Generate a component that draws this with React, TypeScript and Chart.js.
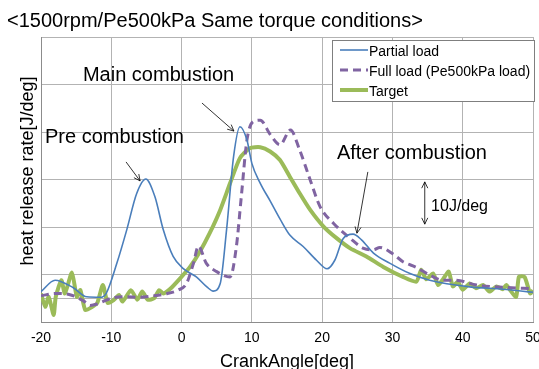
import React, { useEffect, useRef } from "react";
import { Chart, registerables } from "chart.js";

Chart.register(...registerables);

const TITLE = "<1500rpm/Pe500kPa Same torque conditions>";
const X_TITLE = "CrankAngle[deg]";
const Y_TITLE = "heat release rate[J/deg]";
const X_TICKS = [-20, -10, 0, 10, 20, 30, 40, 50];
const Y_GRID = [-5, 0, 5, 15, 25, 35, 45, 55];

const partialX = [-20, -18, -15.4, -13.5, -11.6, -10.7, -9.2, -7.8, -6.4, -5.1, -3.8, -2.6, -1.2, 0.2, 2.1, 3.6, 4.5, 5.5, 6.4, 7.4, 8.3, 9.3, 10, 11.2, 12.6, 14, 15.4, 17.3, 19.2, 20.7, 21.8, 23, 24.4, 25.6, 27.3, 29.6, 32.5, 35.3, 41, 45.7, 50];
const partialY = [1.4, 3.8, 2.2, 0.3, 0.2, 1.1, 7.4, 14.4, 22, 25.1, 21.4, 14.4, 8.8, 6.3, 4.5, 2.4, 1.5, 3.1, 14.4, 29.8, 36.1, 33.3, 28.4, 24.2, 20.5, 16.7, 13.3, 10.9, 8, 6.2, 8, 12.6, 13.5, 12.3, 9.5, 7.4, 5.2, 3.8, 2.4, 1.9, 1.25];

const fullX = [-20, -18, -16, -14, -13, -12, -10, -8, -6, -4, -2, -0.5, 0.7, 1.7, 2.4, 3.5, 5, 6.9, 7.8, 8.5, 9.3, 10.2, 11.2, 12.6, 14, 15.5, 16.8, 18.3, 19.7, 21.6, 24, 25.9, 27.3, 28.2, 30.1, 31.5, 33.4, 35.3, 37.2, 39, 42, 46, 50];
const fullY = [0.5, 1, 0.8, -0.5, -1.5, -1.2, 0, 0.3, 0.2, 0.5, 1, 1.7, 3.1, 7.4, 11, 7.4, 5.6, 4.5, 10.9, 21.4, 33.3, 37.2, 37.5, 34.5, 32.3, 35.4, 31.2, 24.9, 19.3, 15.8, 12.6, 10.5, 10.2, 10.7, 9.3, 7.7, 6.5, 4.9, 3.8, 3.8, 2.8, 2.3, 2];

const targetX = [-20, -19.4, -18.9, -18.2, -17.9, -17.1, -16.6, -15.6, -14.9, -14.4, -13.7, -12.7, -12, -11.2, -10.5, -9.6, -8.9, -8.4, -7.2, -6.3, -5.6, -4.8, -3.9, -3.2, -2.6, -1.6, -0.2, 1.2, 2.6, 4, 5.5, 6.9, 8.3, 9.7, 11.2, 12.6, 14, 15.4, 16.8, 18.3, 20.2, 22.1, 24, 26.3, 28.7, 31.5, 33.4, 34.1, 34.8, 35.8, 36.5, 37.2, 38, 38.6, 39.3, 40, 41, 41.9, 42.9, 43.8, 44.8, 45.7, 46.2, 46.7, 47.6, 48, 48.8, 49.6, 50];
const targetY = [1, -1.8, 0.3, -3.5, 0.3, 3.8, 1, 5.4, 0.3, 1.7, -2.5, -1.8, -1, 2.8, -1, -0.3, 0.7, -0.7, 1.7, -0.3, 1.4, -0.3, 0, 1.7, 1, 2, 4.2, 6.6, 9.8, 13.7, 18.6, 24.2, 29.5, 31.6, 31.8, 30.9, 29.1, 25.6, 22.1, 18.6, 15.1, 12.6, 10.5, 8.8, 6.6, 4.5, 3.5, 6, 4, 5.2, 2.8, 4, 5.6, 2.5, 3.5, 1.8, 3.1, 2.1, 2.8, 1.4, 2.5, 1.9, 2.8, 1.8, 0.3, 4.5, 4.5, 1, 1.7];

const SERIES = ["Partial load", "Full load (Pe500kPa load)", "Target"];
const COLORS = ["#4a7ebb", "#8064a2", "#9bbb59"];

const TEXT_NOTES = [
  { text: "Main combustion", x: -14.03, y: 45.84, size: 20 },
  { text: "Pre combustion", x: -19.43, y: 32.6, size: 20 },
  { text: "After combustion", x: 22.1, y: 29.25, size: 20 },
  { text: "10J/deg", x: 35.5, y: 18.37, size: 16 },
];
const ARROWS = [
  { x1: -7.9, y1: 28.7, x2: -5.9, y2: 24.7, both: false },
  { x1: 2.9, y1: 41.1, x2: 7.45, y2: 35.2, both: false },
  { x1: 26.5, y1: 26.6, x2: 24.95, y2: 13.7, both: false },
  { x1: 34.6, y1: 24.5, x2: 34.6, y2: 15.6, both: true },
];

const FONT = "'Liberation Sans', Arial, sans-serif";

function zip(xs: number[], ys: number[]) {
  return xs.map((x, i) => ({ x, y: ys[i] }));
}

function arrowHead(ctx: CanvasRenderingContext2D, fx: number, fy: number, tx: number, ty: number) {
  const ang = Math.atan2(ty - fy, tx - fx);
  const len = 7;
  const spread = 0.45;
  ctx.beginPath();
  ctx.moveTo(tx - len * Math.cos(ang - spread), ty - len * Math.sin(ang - spread));
  ctx.lineTo(tx, ty);
  ctx.lineTo(tx - len * Math.cos(ang + spread), ty - len * Math.sin(ang + spread));
  ctx.stroke();
}

const overlayPlugin = {
  id: "overlay",
  afterDraw(chart: any) {
    const ctx: CanvasRenderingContext2D = chart.ctx;
    const xs = chart.scales.x;
    const ys = chart.scales.y;
    const area = chart.chartArea;
    ctx.save();
    ctx.fillStyle = "#000";
    ctx.textBaseline = "alphabetic";
    ctx.textAlign = "left";
    // title
    ctx.font = `20px ${FONT}`;
    ctx.fillText(TITLE, 7, 26.5);
    // x title
    ctx.font = `18px ${FONT}`;
    ctx.textAlign = "center";
    ctx.fillText(X_TITLE, (area.left + area.right) / 2, 367);
    // y title
    ctx.save();
    ctx.translate(33, 171);
    ctx.rotate(-Math.PI / 2);
    ctx.font = `18px ${FONT}`;
    ctx.fillText(Y_TITLE, 0, 0);
    ctx.restore();
    ctx.textAlign = "left";
    // notes
    for (const n of TEXT_NOTES) {
      ctx.font = `${n.size}px ${FONT}`;
      ctx.fillText(n.text, xs.getPixelForValue(n.x), ys.getPixelForValue(n.y));
    }
    ctx.strokeStyle = "#000";
    ctx.lineWidth = 0.8;
    for (const a of ARROWS) {
      const x1 = xs.getPixelForValue(a.x1), y1 = ys.getPixelForValue(a.y1);
      const x2 = xs.getPixelForValue(a.x2), y2 = ys.getPixelForValue(a.y2);
      ctx.beginPath();
      ctx.moveTo(x1, y1);
      ctx.lineTo(x2, y2);
      ctx.stroke();
      arrowHead(ctx, x1, y1, x2, y2);
      if (a.both) arrowHead(ctx, x2, y2, x1, y1);
    }
    // legend
    const lx = 332, ly = 40, lw = 202, lh = 61;
    ctx.fillStyle = "#fff";
    ctx.fillRect(lx, ly, lw, lh);
    ctx.strokeStyle = "#7f7f7f";
    ctx.lineWidth = 1;
    ctx.strokeRect(lx + 0.5, ly + 0.5, lw, lh);
    ctx.font = `14px ${FONT}`;
    ctx.fillStyle = "#000";
    chart.data.datasets.forEach((ds: any, i: number) => {
      const yy = ly + 10 + i * 20;
      ctx.strokeStyle = ds.borderColor;
      ctx.lineWidth = ds.borderWidth;
      ctx.setLineDash(ds.borderDash || []);
      ctx.beginPath();
      ctx.moveTo(340, yy);
      ctx.lineTo(368, yy);
      ctx.stroke();
      ctx.setLineDash([]);
      ctx.fillText(ds.label, 369, yy + 5.5);
    });
    ctx.restore();
  },
};

export default function App() {
  const ref = useRef<HTMLCanvasElement | null>(null);
  useEffect(() => {
    document.body.style.margin = "0";
    const canvas = ref.current!;
    const chart = new Chart(canvas, {
      type: "line",
      data: {
        datasets: [
          {
            label: SERIES[0],
            data: zip(partialX, partialY),
            borderColor: COLORS[0],
            borderWidth: 1.6,
            pointRadius: 0,
            tension: 0.4,
            cubicInterpolationMode: "monotone",
            order: 1,
          },
          {
            label: SERIES[1],
            data: zip(fullX, fullY),
            borderColor: COLORS[1],
            borderWidth: 3,
            borderDash: [8, 5],
            pointRadius: 0,
            tension: 0.4,
            cubicInterpolationMode: "monotone",
            order: 2,
          },
          {
            label: SERIES[2],
            data: zip(targetX, targetY),
            borderColor: COLORS[2],
            borderWidth: 4,
            pointRadius: 0,
            tension: 0.2,
            order: 3,
          },
        ],
      },
      options: {
        animation: false,
        responsive: false,
        layout: { padding: { top: 37, right: 6, left: 0, bottom: 0 } },
        plugins: { legend: { display: false }, tooltip: { enabled: false } },
        scales: {
          x: {
            type: "linear",
            min: -20,
            max: 50,
            afterBuildTicks: (s: any) => {
              s.ticks = X_TICKS.map((v) => ({ value: v }));
            },
            afterFit: (s: any) => {
              s.height = 47;
              s.paddingLeft = 0;
              s.paddingRight = 0;
            },
            grid: { color: "#b3b3b3", drawTicks: false, lineWidth: 1 },
            border: { display: true, color: "#8c8c8c" },
            ticks: { padding: 8, color: "#000", font: { family: FONT, size: 14 }, maxRotation: 0, autoSkip: false },
            title: { display: false },
          },
          y: {
            type: "linear",
            min: -5,
            max: 55,
            afterBuildTicks: (s: any) => {
              s.ticks = Y_GRID.map((v) => ({ value: v }));
            },
            afterFit: (s: any) => {
              s.width = 41;
              s.paddingTop = 0;
              s.paddingBottom = 0;
            },
            grid: { color: "#b3b3b3", drawTicks: false, lineWidth: 1 },
            border: { display: true, color: "#8c8c8c" },
            ticks: { display: false },
            title: { display: false },
          },
        },
      },
      plugins: [overlayPlugin],
    } as any);
    return () => chart.destroy();
  }, []);
  return (
    <div style={{ position: "absolute", left: 0, top: 0, width: 539, height: 369 }}>
      <canvas ref={ref} width={539} height={369} style={{ width: 539, height: 369, display: "block" }} />
    </div>
  );
}
